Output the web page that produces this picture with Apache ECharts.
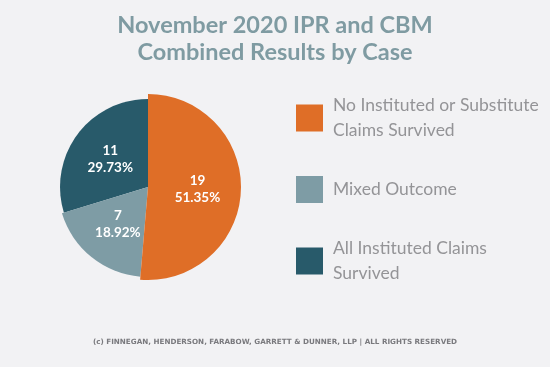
<!DOCTYPE html>
<html><head><meta charset="utf-8">
<script src="https://cdn.jsdelivr.net/npm/echarts@6/dist/echarts.min.js"></script>
<style>html,body{margin:0;padding:0;background:#F2F2F4;}#c{width:550px;height:367px;}</style>
</head><body><div id="c"></div>
<script>
const categories = ["No Instituted or Substitute\nClaims Survived", "Mixed Outcome", "All Instituted Claims\nSurvived"];
const values = [19, 7, 11];
const percents = ["51.35%", "18.92%", "29.73%"];
const colors = ["#DF6E27", "#7E9CA5", "#285A6A"];
const radii = [93, 90, 88];

const chart = echarts.init(document.getElementById('c'));
const series = categories.map((_, k) => ({
  type: 'pie',
  center: [148, 187],
  radius: [0, radii[k]],
  startAngle: 90,
  clockwise: true,
  silent: true,
  animation: false,
  z: 3 - k,
  data: categories.map((name, i) => ({
    name: name,
    value: values[i],
    itemStyle: { color: i === k ? colors[i] : 'rgba(0,0,0,0)' },
    label: { show: i === k }
  })),
  label: {
    position: 'inside',
    color: '#ffffff',
    fontFamily: 'Lato',
    fontWeight: 'bold',
    fontSize: 13.5,
    lineHeight: 17,
    formatter: p => values[p.dataIndex] + '\n' + percents[p.dataIndex]
  },
  labelLine: { show: false }
}));

chart.setOption({
  backgroundColor: '#F2F2F4',
  title: {
    text: 'November 2020 IPR and CBM\nCombined Results by Case',
    left: 'center',
    top: 7,
    textStyle: { color: '#7F9BA2', fontFamily: 'Lato', fontWeight: 'bold', fontSize: 23.5, lineHeight: 27 }
  },
  legend: {
    orient: 'vertical',
    left: 291,
    top: 88,
    itemWidth: 27,
    itemHeight: 27,
    itemGap: 33,
    icon: 'rect',
    selectedMode: false,
    data: categories.map((name, i) => ({ name: name, itemStyle: { color: colors[i] } })),
    textStyle: { color: '#949497', fontFamily: 'Lato', fontSize: 17.5, lineHeight: 25, padding: [0, 0, 0, 5] }
  },
  graphic: [{
    type: 'text',
    left: 'center',
    top: 339,
    style: {
      text: '(c) FINNEGAN, HENDERSON, FARABOW, GARRETT & DUNNER, LLP | ALL RIGHTS RESERVED',
      fill: '#7A7A7E',
      font: 'bold 7.2px "DejaVu Sans"'
    }
  }],
  series: series
});
</script></body></html>
